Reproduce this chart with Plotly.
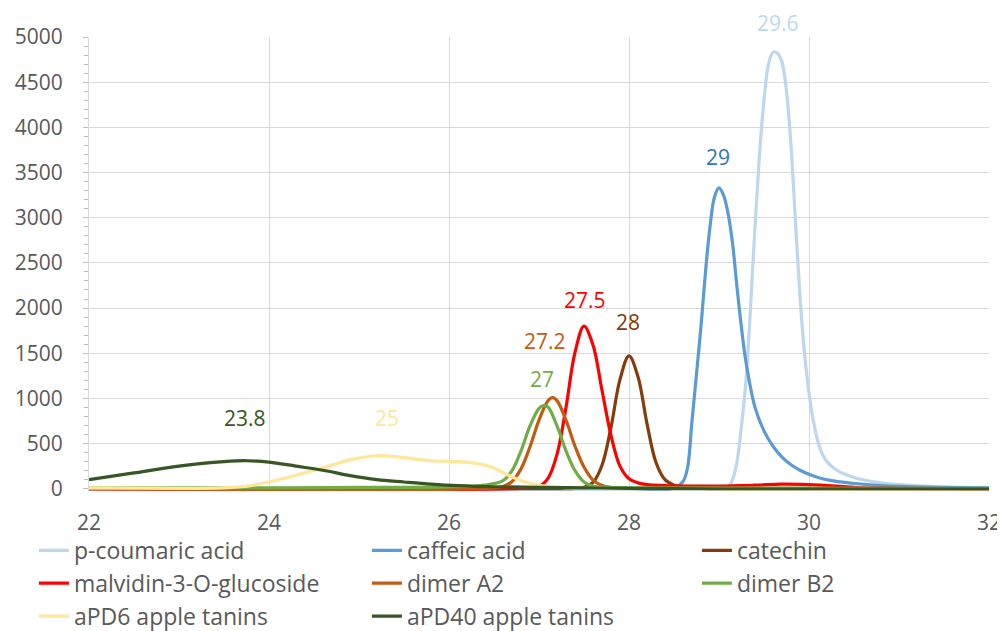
import plotly.graph_objects as go

# ---- data ----
names = ["p-coumaric acid", "caffeic acid", "catechin", "malvidin-3-O-glucoside",
         "dimer A2", "dimer B2", "aPD6 apple tanins", "aPD40 apple tanins"]
colors = ["#bdd7ee", "#5b9bd5", "#843c0c", "#ff0000", "#c55a11", "#70ad47", "#ffe699", "#375623"]
# legend column of each series (the reference legend is a 3-column grid)
legend_col = [1, 2, 3, 1, 2, 3, 1, 2]

pcoum_x = [22, 28, 29.0, 29.1, 29.15, 29.2, 29.25, 29.3, 29.35, 29.4, 29.45, 29.5, 29.55, 29.6, 29.65,
           29.7, 29.75, 29.8, 29.85, 29.9, 29.95, 30.0, 30.05, 30.1, 30.15, 30.2, 30.3, 30.4, 30.5,
           30.6, 30.8, 31.0, 31.5, 32]
pcoum_y = [0, 0, 5, 20, 100, 300, 700, 1200, 2000, 2900, 3700, 4300, 4700, 4830, 4820,
           4720, 4400, 3800, 2950, 2130, 1500, 1060, 740, 520, 380, 300, 210, 160, 125,
           100, 65, 45, 20, 10]

caff_x = [22, 28, 28.5, 28.6, 28.65, 28.7, 28.75, 28.8, 28.85, 28.9, 28.95, 29.0, 29.05, 29.1, 29.15,
          29.2, 29.25, 29.3, 29.4, 29.5, 29.6, 29.7, 29.8, 29.9, 30.0, 30.1, 30.25, 30.4, 30.6, 30.8,
          31.3, 32]
caff_y = [0, 0, 5, 80, 230, 750, 1270, 1800, 2400, 2900, 3230, 3330, 3250, 3050, 2720,
          2230, 1780, 1400, 900, 640, 470, 350, 265, 205, 160, 125, 90, 70, 50, 35,
          18, 10]

cat_x = [22, 27, 27.4, 27.5, 27.6, 27.7, 27.8, 27.9, 28.0, 28.1, 28.2, 28.3, 28.4, 28.5, 28.6, 28.8, 29, 32]
cat_y = [0, 0, 5, 15, 70, 260, 680, 1210, 1470, 1240, 720, 290, 100, 40, 15, 5, 0, 0]

malv_x = [22, 26.8, 27.0, 27.1, 27.2, 27.3, 27.4, 27.5, 27.6, 27.7, 27.8, 27.9, 28.0, 28.1, 28.2,
          28.4, 28.7, 29.0, 29.4, 29.7, 30.0, 30.3, 30.6, 31, 32]
malv_y = [0, 5, 25, 115, 380, 900, 1510, 1800, 1590, 1090, 590, 250, 110, 65, 45,
          35, 30, 30, 40, 50, 45, 30, 10, 5, 0]

a2_x = [22, 26.4, 26.6, 26.7, 26.8, 26.9, 27.0, 27.1, 27.15, 27.2, 27.3, 27.4, 27.5, 27.6, 27.7, 27.8, 28.0, 32]
a2_y = [0, 5, 25, 80, 220, 465, 760, 975, 1010, 975, 760, 470, 240, 95, 35, 12, 5, 0]

b2_x = [22, 24, 25, 26, 26.4, 26.6, 26.7, 26.8, 26.9, 27.0, 27.05, 27.1, 27.2, 27.3, 27.4, 27.5, 27.6, 27.8, 28.2, 32]
b2_y = [10, 10, 15, 20, 40, 90, 200, 420, 695, 890, 920, 905, 695, 420, 200, 75, 30, 15, 10, 5]

apd6_x = [22, 23, 23.5, 23.8, 24.0, 24.3, 24.6, 24.9, 25.2, 25.5, 25.8, 26.1, 26.3, 26.5, 26.7,
          26.9, 27.1, 27.3, 27.6, 28, 32]
apd6_y = [10, 5, 10, 35, 75, 150, 230, 320, 365, 345, 310, 300, 280, 230, 130,
          60, 25, 10, 5, 0, 0]

apd40_x = [22, 22.5, 23, 23.5, 23.75, 24, 24.3, 24.6, 24.9, 25.2, 25.5, 25.8, 26.1, 26.5, 27, 27.5, 28, 29, 32]
apd40_y = [100, 175, 250, 300, 310, 295, 250, 205, 145, 100, 75, 52, 35, 22, 15, 10, 5, 0, 0]

series_x = [pcoum_x, caff_x, cat_x, malv_x, a2_x, b2_x, apd6_x, apd40_x]
series_y = [pcoum_y, caff_y, cat_y, malv_y, a2_y, b2_y, apd6_y, apd40_y]

# peak labels (data coordinates)
label_text = ["29.6", "29", "28", "27.5", "27.2", "27", "25", "23.8"]
label_x = [29.66, 28.99, 27.99, 27.51, 27.07, 27.03, 25.31, 23.73]
label_y = [5150, 3670, 1850, 2090, 1630, 1210, 785, 785]
label_colors = ["#bdd7ee", "#2e75b6", "#843c0c", "#ff0000", "#c55a11", "#70ad47", "#ffe699", "#375623"]

x_ticks = [22, 24, 26, 28, 30, 32]
y_ticks = [0, 500, 1000, 1500, 2000, 2500, 3000, 3500, 4000, 4500, 5000]
Y_RANGE = [-25, 5000]

FONT = "Open Sans"
GREY = "#595959"

# the page body adds an 8px margin, so the figure is 8px smaller on each side
W, H = 997, 623

fig = go.Figure()
legend_ids = {1: "legend", 2: "legend2", 3: "legend3"}
for n, c, xs, ys, col in zip(names, colors, series_x, series_y, legend_col):
    fig.add_trace(go.Scatter(x=xs, y=ys, name=n, mode="lines", legend=legend_ids[col],
                             line=dict(color=c, width=3.2, shape="spline", smoothing=1.0)))

for t, xx, yy, c in zip(label_text, label_x, label_y, label_colors):
    fig.add_annotation(x=xx, xref="x",
                       y=(yy - Y_RANGE[0]) / (Y_RANGE[1] - Y_RANGE[0]), yref="paper",
                       xanchor="center", yanchor="middle",
                       text=t, showarrow=False,
                       font=dict(family=FONT, size=21, color=c))

leg_common = dict(orientation="v", yref="container", y=0.164, yanchor="top",
                  xref="container", xanchor="left",
                  font=dict(family=FONT, size=23, color=GREY), tracegroupgap=0,
                  itemwidth=30, bgcolor="rgba(0,0,0,0)", borderwidth=0)

fig.update_layout(
    width=W, height=H,
    margin=dict(l=81, r=16, t=29, b=140, autoexpand=False),
    paper_bgcolor="white", plot_bgcolor="white",
    font=dict(family=FONT, color=GREY),
    showlegend=True,
    legend=dict(x=0.026, **leg_common),
    legend2=dict(x=0.360, **leg_common),
    legend3=dict(x=0.691, **leg_common),
    xaxis=dict(range=[22, 32], tickvals=x_ticks, showgrid=True, gridcolor="#d9d9d9", gridwidth=1,
               zeroline=False, showline=False, ticks="", ticklabelstandoff=17,
               tickfont=dict(family=FONT, size=21, color=GREY)),
    yaxis=dict(range=Y_RANGE, tickvals=y_ticks, showgrid=True, gridcolor="#d9d9d9", gridwidth=1,
               zeroline=False, showline=True, linecolor="#d9d9d9", linewidth=1,
               ticks="outside", ticklen=5, tickcolor="#bfbfbf", ticklabelstandoff=16,
               minor=dict(ticks="outside", dtick=100, ticklen=4, tickcolor="#bfbfbf", showgrid=False),
               tickfont=dict(family=FONT, size=21, color=GREY)),
)

fig.write_html("out.html")
